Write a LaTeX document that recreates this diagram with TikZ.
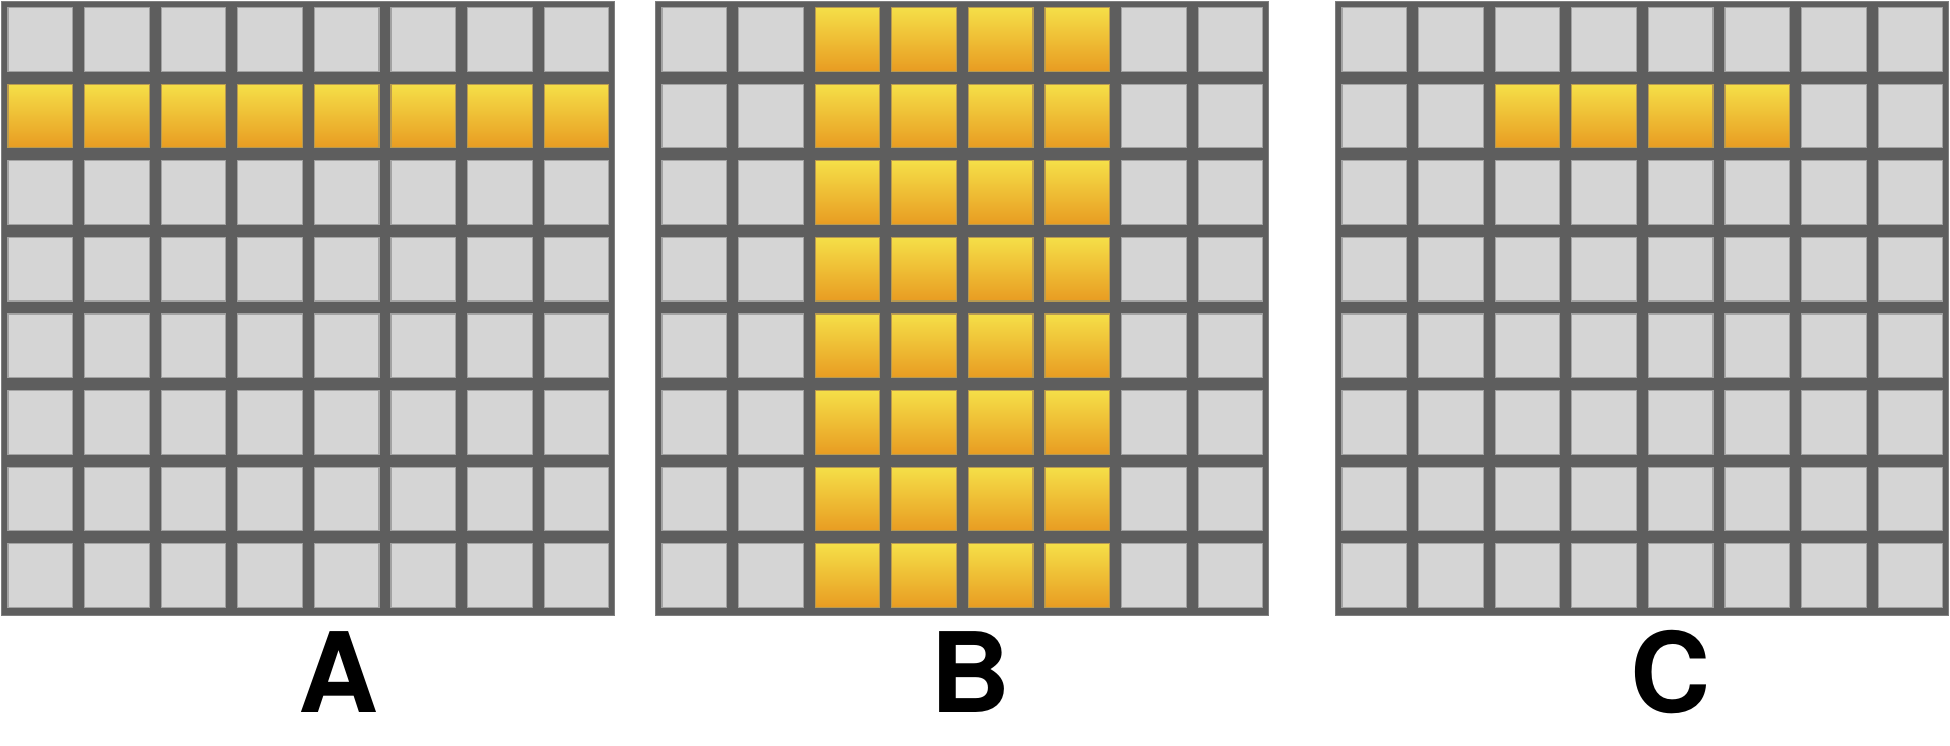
\documentclass[tikz,border=0pt]{standalone}
\usepackage{fontspec}
\setmainfont{TeX Gyre Heros}
\definecolor{framegray}{HTML}{5E5E5E}
\definecolor{cellgray}{HTML}{D5D5D5}
\definecolor{celledge}{HTML}{A2A2A2}
\definecolor{goldtop}{HTML}{F5DF48}
\definecolor{goldbot}{HTML}{E89C22}
\definecolor{goldedge}{HTML}{B89A50}
\tikzset{
  frame/.style={fill=framegray, draw=framegray!80, line width=1pt},
  plaincell/.style={fill=cellgray, draw=celledge, line width=1.2pt},
  goldcell/.style={top color=goldtop, bottom color=goldbot, draw=goldedge, line width=1.2pt},
  gridlabel/.style={font=\fontsize{111}{111}\selectfont\bfseries, anchor=base, inner sep=0pt}
}
\begin{document}
\begin{tikzpicture}[x=1pt,y=-1pt]
\useasboundingbox (0,0) rectangle (1950,745);
% grid A: row 1 highlighted
\def\ox{1}
\fill[frame] (\ox,1) rectangle ++(613,614);
\foreach \r in {0,...,7}{
  \foreach \c in {0,...,7}{
    \ifnum\r=1
      \path[goldcell] ({\ox+7+76.6*\c},{7.5+76.6*\r}) rectangle ++(64.6,63.6);
    \else
      \path[plaincell] ({\ox+7+76.6*\c},{7.5+76.6*\r}) rectangle ++(64.6,63.6);
    \fi
  }
}
% grid B: columns 2-5 highlighted
\def\ox{655}
\fill[frame] (\ox,1) rectangle ++(613,614);
\foreach \r in {0,...,7}{
  \foreach \c in {0,...,7}{
    \pgfmathtruncatemacro{\hl}{(\c>1)&&(\c<6)}
    \ifnum\hl=1
      \path[goldcell] ({\ox+7+76.6*\c},{7.5+76.6*\r}) rectangle ++(64.6,63.6);
    \else
      \path[plaincell] ({\ox+7+76.6*\c},{7.5+76.6*\r}) rectangle ++(64.6,63.6);
    \fi
  }
}
% grid C: row 1, columns 2-5 highlighted
\def\ox{1335}
\fill[frame] (\ox,1) rectangle ++(613,614);
\foreach \r in {0,...,7}{
  \foreach \c in {0,...,7}{
    \pgfmathtruncatemacro{\hl}{(\r==1)&&(\c>1)&&(\c<6)}
    \ifnum\hl=1
      \path[goldcell] ({\ox+7+76.6*\c},{7.5+76.6*\r}) rectangle ++(64.6,63.6);
    \else
      \path[plaincell] ({\ox+7+76.6*\c},{7.5+76.6*\r}) rectangle ++(64.6,63.6);
    \fi
  }
}
\node[gridlabel] (labA) at (339,712) {A};
\node[gridlabel] (labB) at (971,712) {B};
\node[gridlabel] (labC) at (1671,712) {C};
\end{tikzpicture}
\end{document}
